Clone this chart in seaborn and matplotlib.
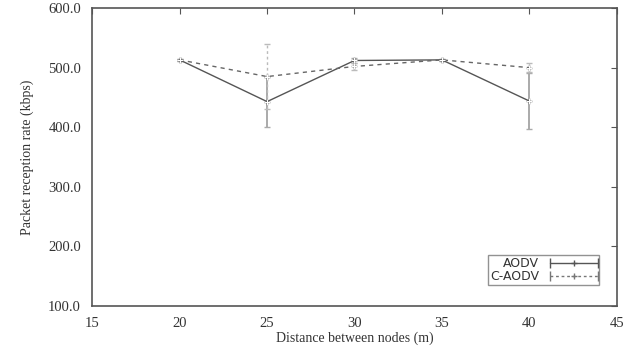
import matplotlib
matplotlib.use("Agg")
import matplotlib.pyplot as plt
import seaborn as sns
import pandas as pd
from matplotlib.legend_handler import HandlerBase
from matplotlib.lines import Line2D

distance = [20, 25, 30, 35, 40]
aodv = [513, 443, 512, 513, 444]
aodv_err = [2, 42, 4, 2, 47]
caodv = [513, 485, 502, 513, 500]
caodv_err = [2, 55, 6, 2, 7]
x_ticks = [15, 20, 25, 30, 35, 40, 45]
y_ticks = [100, 200, 300, 400, 500, 600]

sns.set_style("white")
plt.rcParams['font.family'] = ['Liberation Serif', 'DejaVu Serif']

fig = plt.figure(figsize=(6.23, 3.49), dpi=100)
ax = fig.add_axes([0.148, 0.123, 0.842, 0.854])

df = pd.DataFrame({
    "x": distance * 2,
    "y": aodv + caodv,
    "s": ["AODV"] * 5 + ["C-AODV"] * 5,
})
sns.lineplot(data=df, x="x", y="y", hue="s", style="s",
             palette={"AODV": "#555555", "C-AODV": "#666666"},
             dashes={"AODV": "", "C-AODV": (3, 3)},
             markers={"AODV": "+", "C-AODV": "+"},
             markersize=5, linewidth=1.0, legend=False, ax=ax, zorder=3)

ax.errorbar(distance, aodv, yerr=aodv_err, fmt="+", ms=5, color="#555555",
            ecolor="#aaaaaa", elinewidth=1.4, capsize=2.5, capthick=1.0, zorder=2)
h2 = ax.errorbar(distance, caodv, yerr=caodv_err, fmt="+", ms=5, color="#666666",
                 ecolor="#bbbbbb", elinewidth=1.0, capsize=2.5, capthick=1.0, zorder=2)
for bl in h2[2]:
    bl.set_linestyle((0, (2, 2)))


class ErrSample(HandlerBase):
    def __init__(self, ls, color):
        super().__init__()
        self.ls = ls
        self.color = color

    def create_artists(self, legend, orig_handle, xdescent, ydescent,
                       width, height, fontsize, trans):
        y = height / 2 - ydescent
        x0, x1 = -xdescent, -xdescent + width
        line = Line2D([x0, x1], [y, y], color=self.color, lw=1.0, ls=self.ls)
        caps = Line2D([x0, x1], [y, y], color=self.color, lw=0, marker="|",
                      ms=7, mew=1.0)
        mid = Line2D([(x0 + x1) / 2], [y], color=self.color, lw=0, marker="+",
                     ms=5, mew=1.0)
        for a in (line, caps, mid):
            a.set_transform(trans)
        return [line, caps, mid]


p1 = Line2D([], [])
p2 = Line2D([], [])
leg = ax.legend(handles=[p1, p2], labels=["AODV", "C-AODV"], loc="lower right",
                bbox_to_anchor=(0.967, 0.07), markerfirst=False, frameon=True,
                fancybox=False, handlelength=3.8, borderpad=0.15,
                labelspacing=0.0, handletextpad=0.9, borderaxespad=0,
                handler_map={p1: ErrSample("-", "#555555"),
                             p2: ErrSample((0, (2, 2)), "#777777")},
                prop={"family": "DejaVu Sans", "size": 9})
leg.get_frame().set_edgecolor("#777777")
leg.get_frame().set_linewidth(1.0)
for t in leg.get_texts():
    t.set_color("#333333")
for col in leg._legend_handle_box.get_children():
    col.align = "right"

ax.set_xlim(15, 45)
ax.set_ylim(100, 600)
ax.set_xticks(x_ticks)
ax.set_yticks(y_ticks)
ax.set_yticklabels([f"{v:.1f}" for v in y_ticks])
ax.tick_params(direction="in", length=4, width=0.8, color="#555555",
               labelsize=10.5, labelcolor="#333333", top=True, right=True)
ax.tick_params(axis="x", pad=8)
ax.tick_params(axis="y", pad=8)
for sp in ax.spines.values():
    sp.set_color("#555555")
    sp.set_linewidth(1.2)
    sp.set_visible(True)

ax.set_xlabel("Distance between nodes (m)", fontsize=10, color="#333333", labelpad=1)
ax.set_ylabel("Packet reception rate (kbps)", fontsize=10, color="#333333", labelpad=10)

fig.savefig("out.png", dpi=100)
